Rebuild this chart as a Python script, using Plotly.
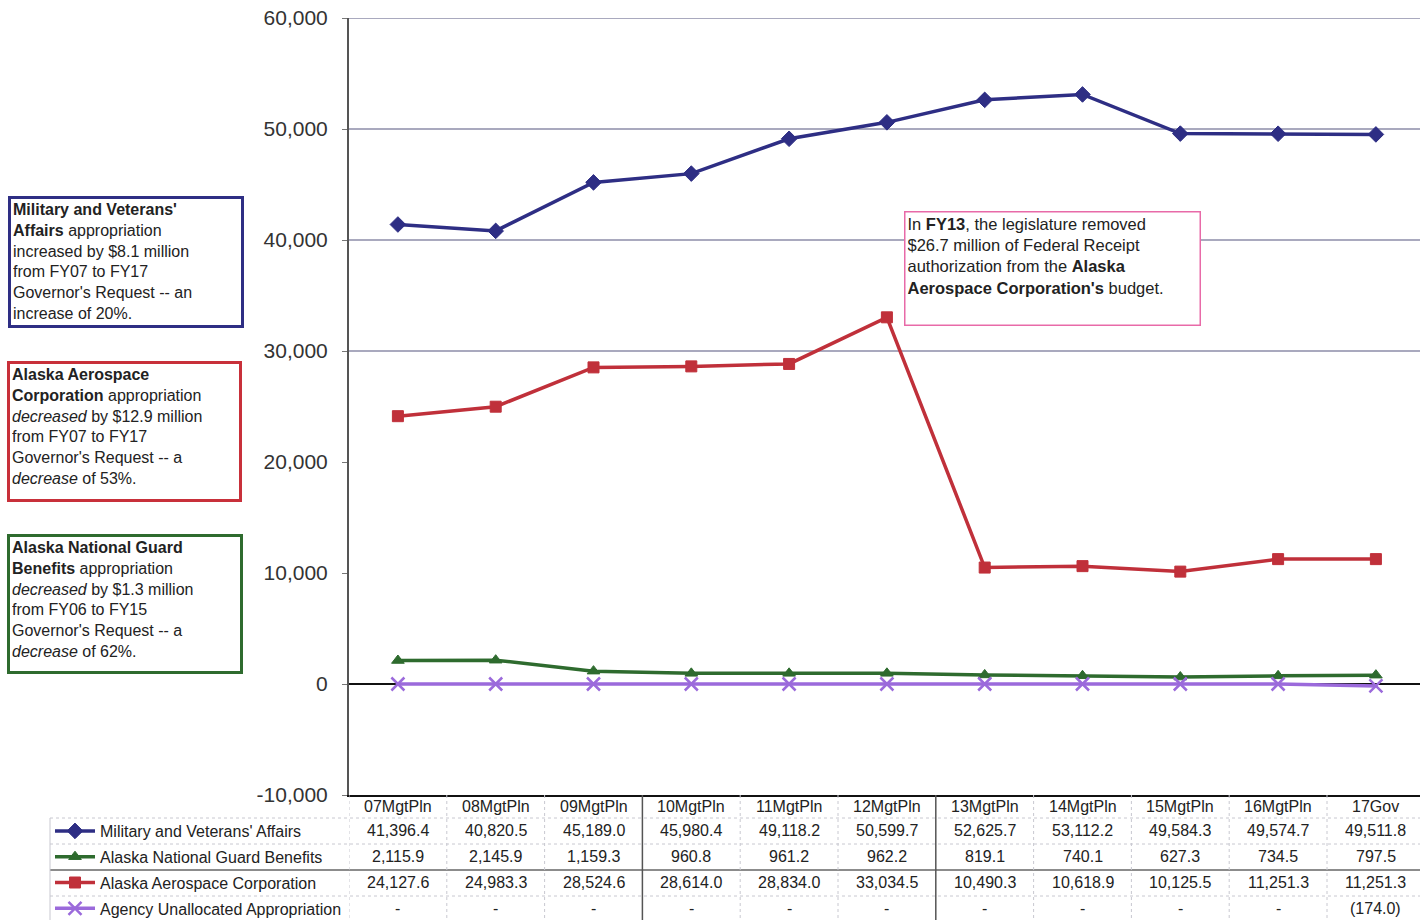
import plotly.graph_objects as go

# ---------------- data ----------------
categories = ["07MgtPln", "08MgtPln", "09MgtPln", "10MgtPln", "11MgtPln", "12MgtPln",
              "13MgtPln", "14MgtPln", "15MgtPln", "16MgtPln", "17Gov"]
military = [41396.4, 40820.5, 45189.0, 45980.4, 49118.2, 50599.7,
            52625.7, 53112.2, 49584.3, 49574.7, 49511.8]
guard = [2115.9, 2145.9, 1159.3, 960.8, 961.2, 962.2,
         819.1, 740.1, 627.3, 734.5, 797.5]
aerospace = [24127.6, 24983.3, 28524.6, 28614.0, 28834.0, 33034.5,
             10490.3, 10618.9, 10125.5, 11251.3, 11251.3]
unallocated = [0, 0, 0, 0, 0, 0, 0, 0, 0, 0, -174.0]
series_names = ["Military and Veterans' Affairs", "Alaska National Guard Benefits",
                "Alaska Aerospace Corporation", "Agency Unallocated Appropriation"]
y_ticks = [-10000, 0, 10000, 20000, 30000, 40000, 50000, 60000]
y_tick_labels = ["{:,}".format(v) for v in y_ticks]
grid_values = [30000, 40000, 50000, 60000]

# ---------------- layout constants ----------------
OFF = 0  # page body margin (removed via post_script)
W, H = 1420, 920
L, T = 349 - OFF, 18 - OFF
PLOT_BOTTOM = 795 - OFF
R, B = 0, H - PLOT_BOTTOM
PW, PH = W - L - R, H - T - B
FONT = "Liberation Sans, Arial, sans-serif"


def px_x(px):
    return (px - OFF - L) / PW


def px_y(py):
    return (PLOT_BOTTOM - (py - OFF)) / PH


colors = ["#2E2E84", "#2E6B2E", "#C0303A", "#9B6ADB"]
symbols = ["diamond", "triangle-up", "square", "x-thin"]
msizes = [12, 11, 11, 13]
data = [military, guard, aerospace, unallocated]

fig = go.Figure()
x_idx = list(range(len(categories)))
for i, (name, vals) in enumerate(zip(series_names, data)):
    marker = dict(symbol=symbols[i], size=msizes[i], color=colors[i])
    if symbols[i] == "x-thin":
        marker["line"] = dict(color=colors[i], width=2.5)
    else:
        marker["line"] = dict(color=colors[i], width=1)
    fig.add_trace(go.Scatter(
        x=x_idx, y=vals, name=name, mode="lines+markers",
        line=dict(color=colors[i], width=3.5),
        marker=marker, legendgroup=str(i),
    ))

# grid lines
for g in grid_values:
    fig.add_shape(type="line", xref="paper", yref="y", x0=0, x1=1, y0=g, y1=g,
                  line=dict(color="#8C8CA8", width=1.3), layer="below")

# ---------------- table ----------------
header_center = 806
row_centers = [831, 857, 883, 908]
row_lines = [818, 844, 870, 896]


def fmt(v):
    if v == 0:
        return "-"
    if v < 0:
        return "({:,.1f})".format(-v)
    return "{:,.1f}".format(v)


for c, cat in enumerate(categories):
    fig.add_annotation(x=c, y=px_y(header_center), xref="x", yref="paper",
                       text=cat, showarrow=False,
                       font=dict(family=FONT, size=16, color="#222222"),
                       xanchor="center", yanchor="middle")

for r, vals in enumerate(data):
    for c, v in enumerate(vals):
        fig.add_annotation(x=c, y=px_y(row_centers[r]), xref="x", yref="paper",
                           text=fmt(v), showarrow=False,
                           font=dict(family=FONT, size=16, color="#222222"),
                           xanchor="center", yanchor="middle")

for k, yl in enumerate(row_lines):
    fig.add_shape(type="line", xref="paper", yref="paper", x0=px_x(50), x1=1,
                  y0=px_y(yl), y1=px_y(yl),
                  line=dict(color="#666666" if k == 2 else "#C8C8D0", width=1.5 if k == 2 else 1,
                            dash="solid" if k == 2 else "dot"))
for c in range(len(categories) + 1):
    dark = c in (3, 6)
    fig.add_shape(type="line", xref="x", yref="paper", x0=c - 0.5, x1=c - 0.5,
                  y0=px_y(795), y1=px_y(925),
                  line=dict(color="#555555" if dark else "#C8C8D0", width=1.5 if dark else 1,
                            dash="solid" if dark else "dot"))
fig.add_shape(type="line", xref="paper", yref="paper", x0=px_x(50), x1=px_x(50),
              y0=px_y(818), y1=px_y(925), line=dict(color="#C8C8D0", width=1))

# ---------------- text boxes ----------------
boxes = [
    dict(x=8, y=196, w=236, h=132, color="#2E2E84",
         text="<b>Military and Veterans'</b><br><b>Affairs</b> appropriation<br>"
              "increased by $8.1 million<br>from FY07 to FY17<br>"
              "Governor's Request -- an<br>increase of 20%."),
    dict(x=7, y=361, w=235, h=141, color="#C8303A",
         text="<b>Alaska Aerospace</b><br><b>Corporation</b> appropriation<br>"
              "<i>decreased</i> by $12.9 million<br>from FY07 to FY17<br>"
              "Governor's Request -- a<br><i>decrease</i> of 53%."),
    dict(x=7, y=534, w=236, h=140, color="#2E6B2E",
         text="<b>Alaska National Guard</b><br><b>Benefits</b> appropriation<br>"
              "<i>decreased</i> by $1.3 million<br>from FY06 to FY15<br>"
              "Governor's Request -- a<br><i>decrease</i> of 62%."),
]
for bx in boxes:
    fig.add_annotation(x=px_x(bx["x"]), y=px_y(bx["y"]), xref="paper", yref="paper",
                       xanchor="left", yanchor="top", showarrow=False,
                       text=bx["text"], align="left", valign="top",
                       width=bx["w"] - 10, height=bx["h"] - 10,
                       bordercolor=bx["color"], borderwidth=3, borderpad=2,
                       bgcolor="white",
                       font=dict(family=FONT, size=16, color="#222222"))

fig.add_annotation(x=px_x(904), y=px_y(211), xref="paper", yref="paper",
                   xanchor="left", yanchor="top", showarrow=False,
                   text="In <b>FY13</b>, the legislature removed<br>$26.7 million of Federal Receipt<br>"
                        "authorization from the <b>Alaska</b><br><b>Aerospace Corporation's</b> budget.",
                   align="left", valign="top", width=290, height=108,
                   bordercolor="#E86AA8", borderwidth=1.5, borderpad=2, bgcolor="white",
                   font=dict(family=FONT, size=16.5, color="#222222"))

fig.update_layout(
    width=W, height=H, margin=dict(l=L, r=R, t=T, b=B, autoexpand=False),
    paper_bgcolor="white", plot_bgcolor="white",
    font=dict(family=FONT, color="#222222"),
    showlegend=True,
    legend=dict(x=px_x(50), y=px_y(814), xref="paper", yref="paper",
                xanchor="left", yanchor="top", traceorder="grouped",
                tracegroupgap=2, bgcolor="rgba(0,0,0,0)",
                font=dict(family=FONT, size=16, color="#222222"), itemwidth=40),
    xaxis=dict(range=[-0.5, -0.5 + PW / 97.8], tickmode="array", tickvals=x_idx,
               showticklabels=False, showgrid=False, zeroline=False,
               showline=True, linecolor="#111111", linewidth=2, ticks=""),
    yaxis=dict(range=[-10000, 60000], tickmode="array", tickvals=y_ticks,
               ticktext=y_tick_labels, showgrid=False,
               zeroline=True, zerolinecolor="#111111", zerolinewidth=1.5,
               showline=True, linecolor="#555555", linewidth=2,
               ticks="outside", ticklen=5, tickcolor="#777777",
               ticklabelstandoff=10, ticklabeloverflow="allow",
               tickfont=dict(family=FONT, size=21, color="#333333")),
)

fig.write_html("out.html", config={"displayModeBar": False},
               post_script="document.body.style.margin='0px';document.body.style.padding='0px';")
